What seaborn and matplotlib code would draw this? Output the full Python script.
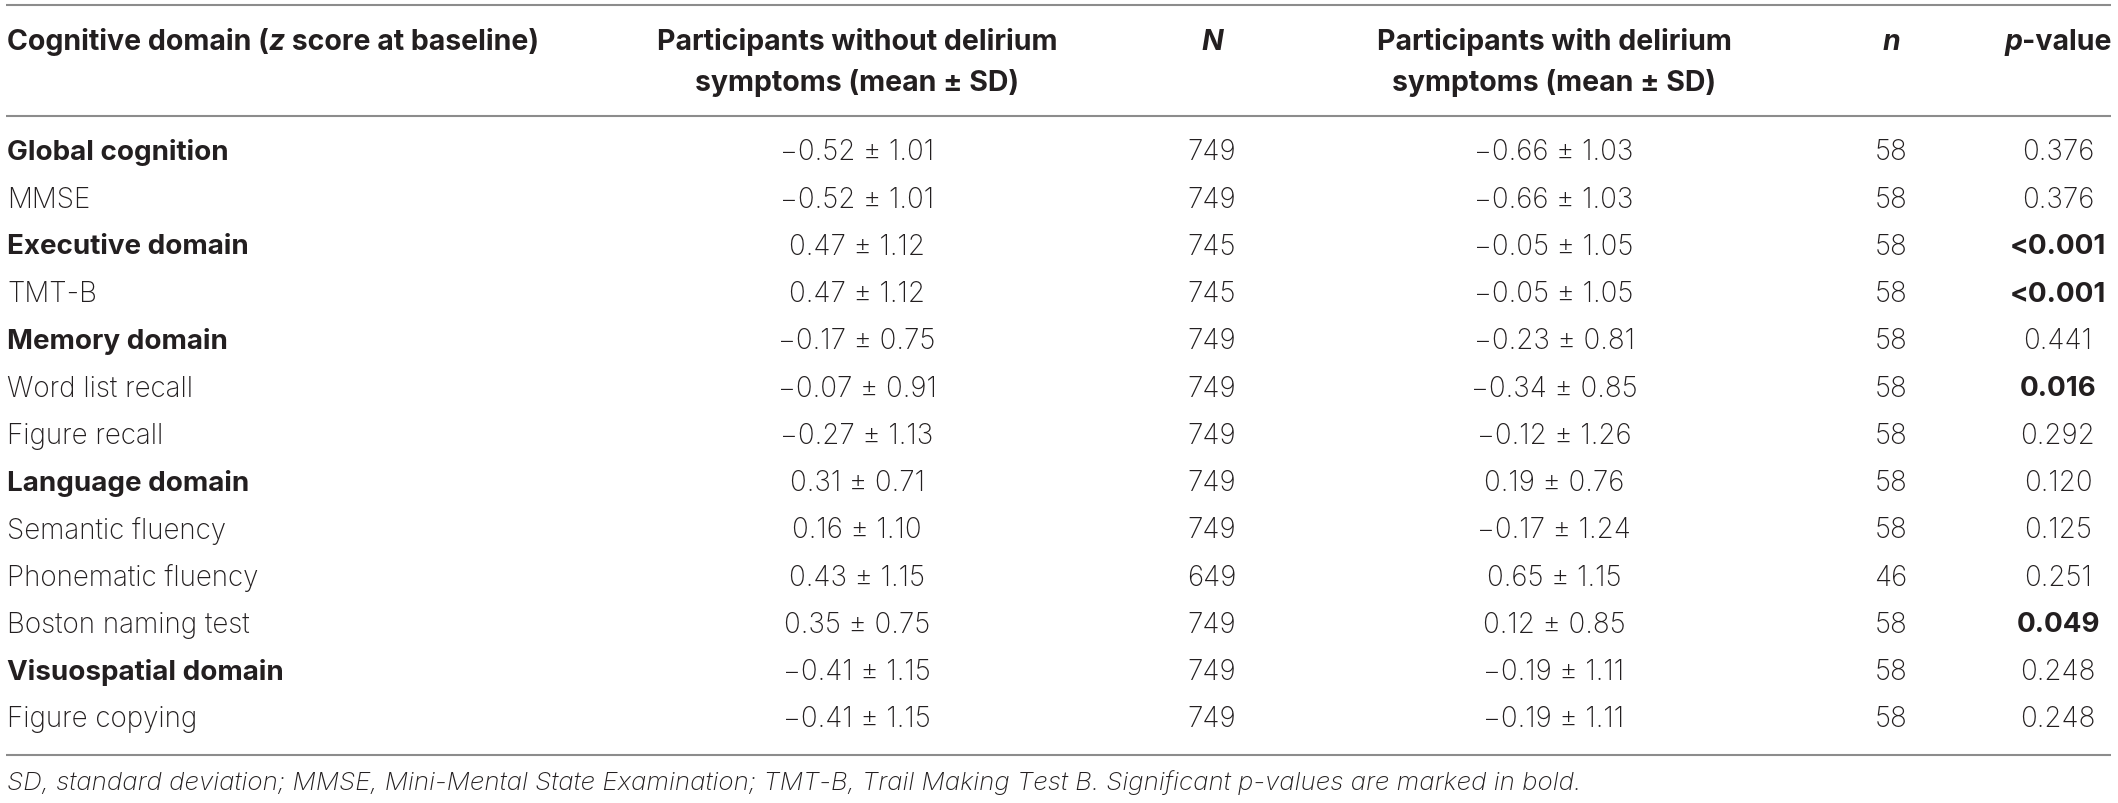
import matplotlib
matplotlib.use("Agg")
import matplotlib.pyplot as plt
import seaborn as sns

# table data
domains = ["Global cognition", "MMSE", "Executive domain", "TMT-B", "Memory domain",
           "Word list recall", "Figure recall", "Language domain", "Semantic fluency",
           "Phonematic fluency", "Boston naming test", "Visuospatial domain", "Figure copying"]
is_domain = [True, False, True, False, True, False, False, True, False, False, False, True, False]
without_mean = [-0.52, -0.52, 0.47, 0.47, -0.17, -0.07, -0.27, 0.31, 0.16, 0.43, 0.35, -0.41, -0.41]
without_sd = [1.01, 1.01, 1.12, 1.12, 0.75, 0.91, 1.13, 0.71, 1.10, 1.15, 0.75, 1.15, 1.15]
N_without = [749, 749, 745, 745, 749, 749, 749, 749, 749, 649, 749, 749, 749]
with_mean = [-0.66, -0.66, -0.05, -0.05, -0.23, -0.34, -0.12, 0.19, -0.17, 0.65, 0.12, -0.19, -0.19]
with_sd = [1.03, 1.03, 1.05, 1.05, 0.81, 0.85, 1.26, 0.76, 1.24, 1.15, 0.85, 1.11, 1.11]
n_with = [58, 58, 58, 58, 58, 58, 58, 58, 58, 46, 58, 58, 58]
p_values = ["0.376", "0.376", "<0.001", "<0.001", "0.441", "0.016", "0.292", "0.120",
            "0.125", "0.251", "0.049", "0.248", "0.248"]
p_bold = [False, False, True, True, False, True, False, False, False, False, True, False, False]
footnote = ("SD, standard deviation; MMSE, Mini-Mental State Examination; TMT-B, "
            "Trail Making Test B. Significant p-values are marked in bold.")

sns.set_style("white")
plt.rcParams['font.family'] = ['Inter', 'Roboto', 'DejaVu Sans']

W, H = 2118, 804
fig = plt.figure(figsize=(W / 100, H / 100), dpi=100)
ax = fig.add_axes([0, 0, 1, 1])
ax.set_xlim(0, W)
ax.set_ylim(H, 0)
ax.axis("off")
renderer = fig.canvas.get_renderer()

TXT = "#231f20"
FS_HEAD = 20.5
FS_BODY = 20


def fmt(v):
    s = f"{abs(v):.2f}"
    return ("\u2212" + s) if v < 0 else s


def run(pieces, x, y, ha="left", size=FS_BODY):
    # pieces: list of (text, weight, style); drawn one after another
    arts = []
    widths = []
    for t, w, st in pieces:
        a = ax.text(0, y, t, fontsize=size, fontweight=w, fontstyle=st,
                    color=TXT, va="center", ha="left")
        widths.append(a.get_window_extent(renderer).width)
        arts.append(a)
    total = sum(widths)
    x0 = x if ha == "left" else (x - total / 2 if ha == "center" else x - total)
    for a, w in zip(arts, widths):
        a.set_x(x0)
        x0 += w


c_dom, c_wo, c_N, c_w, c_n, c_p = 7, 857, 1212, 1554, 1891, 2058
line_kw = dict(color="#8c8c8c", lw=1.5)
ax.hlines([6, 117, 756], 6, 2111, **line_kw)

# header
h1, h2 = 42, 83
run([("Cognitive domain (", "bold", "normal"), ("z", "bold", "italic"),
     (" score at baseline)", "bold", "normal")], c_dom, h1, size=FS_HEAD)
run([("Participants without delirium", "bold", "normal")], c_wo, h1, "center", FS_HEAD)
run([("symptoms (mean \u00b1 SD)", "bold", "normal")], c_wo, h2, "center", FS_HEAD)
run([("N", "bold", "italic")], c_N, h1, "center", FS_HEAD)
run([("Participants with delirium", "bold", "normal")], c_w, h1, "center", FS_HEAD)
run([("symptoms (mean \u00b1 SD)", "bold", "normal")], c_w, h2, "center", FS_HEAD)
run([("n", "bold", "italic")], c_n, h1, "center", FS_HEAD)
run([("p", "bold", "italic"), ("-value", "bold", "normal")], c_p, h1, "center", FS_HEAD)

# body rows
y0, dy = 153, 47.25
for i, name in enumerate(domains):
    y = y0 + i * dy
    run([(name, "bold" if is_domain[i] else "light", "normal")], c_dom, y)
    run([(f"{fmt(without_mean[i])} \u00b1 {without_sd[i]:.2f}", "light", "normal")], c_wo, y, "center")
    run([(str(N_without[i]), "light", "normal")], c_N, y, "center")
    run([(f"{fmt(with_mean[i])} \u00b1 {with_sd[i]:.2f}", "light", "normal")], c_w, y, "center")
    run([(str(n_with[i]), "light", "normal")], c_n, y, "center")
    run([(p_values[i], "bold" if p_bold[i] else "light", "normal")], c_p, y, "center")

run([(footnote, "light", "italic")], c_dom, 783, size=18.7)

fig.savefig("out.png", dpi=100)
